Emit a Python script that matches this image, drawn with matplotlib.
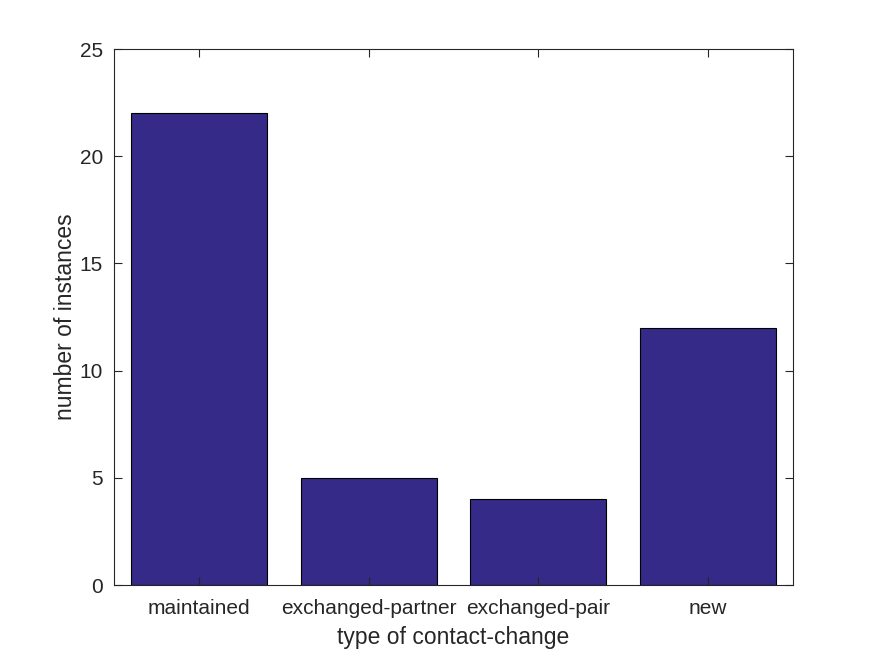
import matplotlib
matplotlib.use("Agg")
import matplotlib.pyplot as plt

categories = ['maintained', 'exchanged-partner', 'exchanged-pair', 'new']
counts = [22, 5, 4, 12]

plt.rcParams['font.family'] = ['Liberation Sans', 'DejaVu Sans']
ink = '#262626'

fig = plt.figure(figsize=(8.75, 6.56), dpi=100)
ax = fig.add_axes([0.1303, 0.1082, 0.776, 0.817])

pos = range(1, len(categories) + 1)
ax.bar(pos, counts, width=0.8, color='#352a87', edgecolor='black', linewidth=0.8)

ax.set_xlim(0.5, 4.5)
ax.set_ylim(0, 25)
ax.set_xticks(list(pos))
ax.set_xticklabels(categories)
ax.set_yticks([0, 5, 10, 15, 20, 25])

ax.tick_params(direction='in', top=True, right=True, length=6, width=0.8,
               labelsize=15, colors=ink, pad=8)
ax.tick_params(axis='x', pad=10)
for s in ax.spines.values():
    s.set_color(ink)
    s.set_linewidth(0.8)

ax.set_xlabel('type of contact-change', fontsize=16.5, color=ink, labelpad=6)
ax.set_ylabel('number of instances', fontsize=16.5, color=ink, labelpad=2)

fig.savefig('out.png', dpi=100)
